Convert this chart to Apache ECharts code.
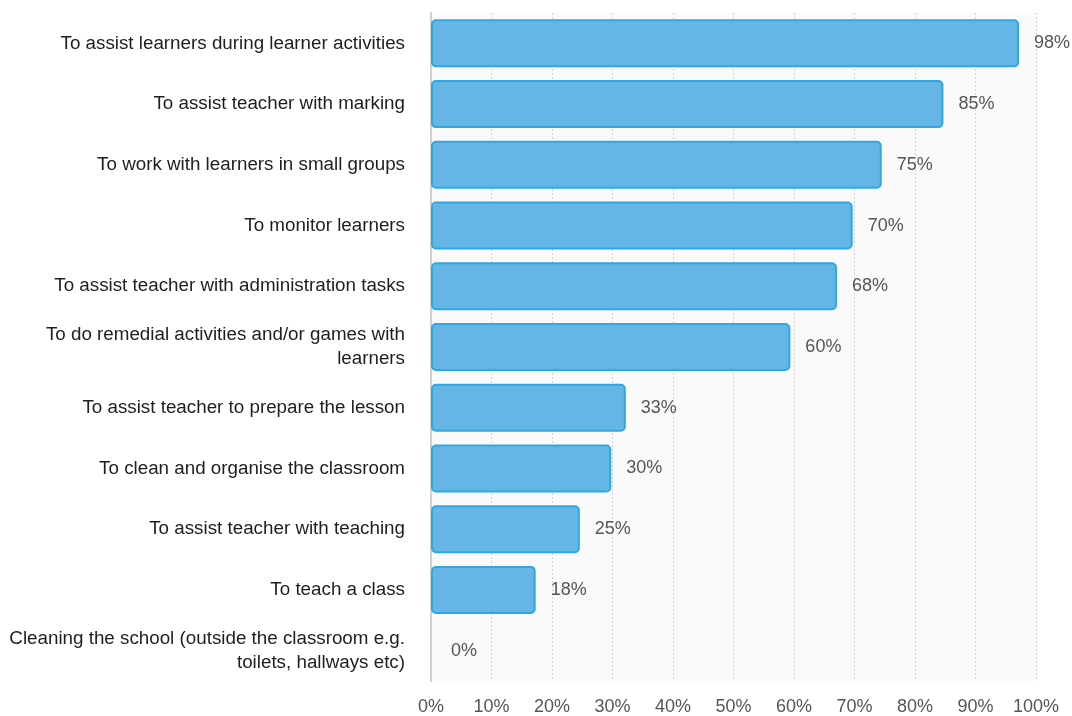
<!DOCTYPE html>
<html>
<head>
<meta charset="utf-8">
<script src="https://cdn.jsdelivr.net/npm/echarts@6/dist/echarts.min.js"></script>
<style>html,body{margin:0;padding:0;background:#fff}#c{width:1072px;height:716px}</style>
</head>
<body>
<div id="c"></div>
<script>
const categories = [
  "To assist learners during learner activities",
  "To assist teacher with marking",
  "To work with learners in small groups",
  "To monitor learners",
  "To assist teacher with administration tasks",
  "To do remedial activities and/or games with\nlearners",
  "To assist teacher to prepare the lesson",
  "To clean and organise the classroom",
  "To assist teacher with teaching",
  "To teach a class",
  "Cleaning the school (outside the classroom e.g.\ntoilets, hallways etc)"
];
// bar lengths
const values = [97.2, 84.7, 74.5, 69.7, 67.1, 59.4, 32.2, 29.8, 24.6, 17.3, 0];
// percentages printed next to the bars
const valueLabels = ["98%", "85%", "75%", "70%", "68%", "60%", "33%", "30%", "25%", "18%", "0%"];
const xTicks = [0, 10, 20, 30, 40, 50, 60, 70, 80, 90, 100];

const chart = echarts.init(document.getElementById('c'), null, {renderer: 'canvas'});
const font = '"Liberation Sans", Arial, Helvetica, sans-serif';
chart.setOption({
  animation: false,
  textStyle: {fontFamily: font},
  grid: {left: 431, right: 36, top: 13, bottom: 33, show: true, backgroundColor: '#fafafa', borderWidth: 0},
  xAxis: {
    type: 'value', min: xTicks[0], max: xTicks[xTicks.length - 1], interval: 10,
    axisLine: {show: false}, axisTick: {show: false},
    splitLine: {show: true, lineStyle: {color: '#d2d2d2', type: [2, 2], width: 1}},
    axisLabel: {formatter: v => v + '%', color: '#555', fontSize: 18, margin: 17, fontFamily: font}
  },
  yAxis: {
    type: 'category', data: categories, inverse: true,
    axisLine: {show: true, lineStyle: {color: '#d0d0d0', width: 2}},
    axisTick: {show: false},
    axisLabel: {color: '#1e1e1e', fontSize: 18.8, margin: 26, align: 'right', lineHeight: 24, fontFamily: font}
  },
  series: [{
    type: 'bar',
    data: values.map(v => v === 0
      ? {value: v, itemStyle: {borderWidth: 0}, label: {distance: 20}}
      : v),
    barWidth: 48,
    itemStyle: {color: '#65b6e5', borderColor: '#2ea8e2', borderWidth: 2, borderRadius: 4},
    label: {show: true, position: 'right', distance: 15, formatter: p => valueLabels[p.dataIndex], color: '#555', fontSize: 18, fontFamily: font}
  }]
});
</script>
</body>
</html>
